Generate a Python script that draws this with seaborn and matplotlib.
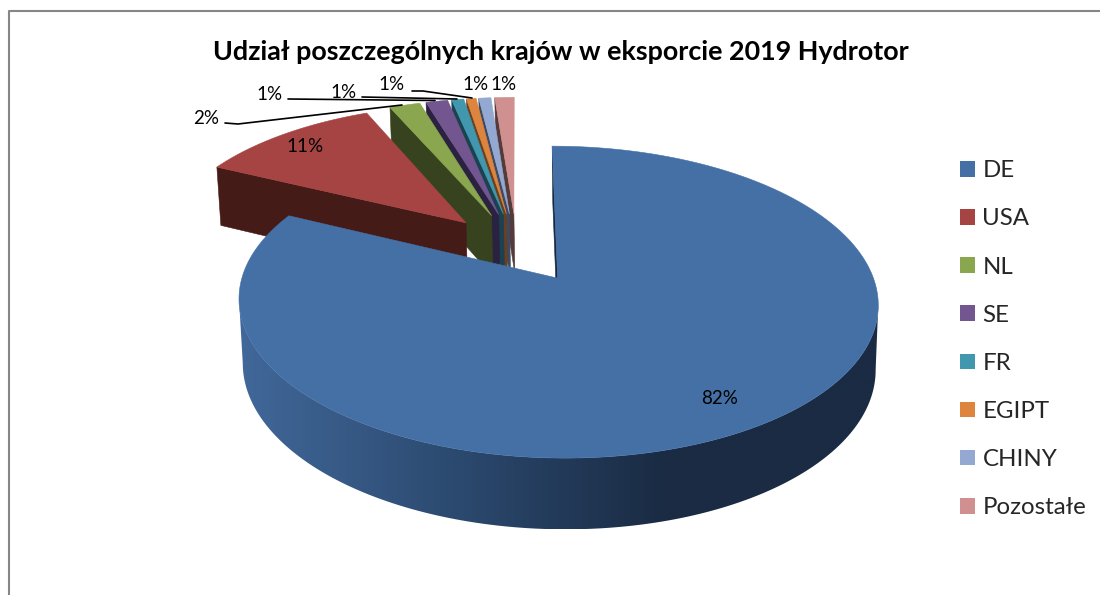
"""Exploded perspective pie: export share by country, Hydrotor 2019."""

import matplotlib
matplotlib.use("Agg")
import matplotlib.pyplot as plt
from matplotlib.colors import ListedColormap
from matplotlib.lines import Line2D
from matplotlib.patches import Patch, Polygon
import numpy as np
import seaborn as sns

countries = ["DE", "USA", "NL", "SE", "FR", "EGIPT", "CHINY", "Pozostałe"]
shares = [82.2, 11.25, 1.9, 1.35, 0.75, 0.6, 0.75, 1.2]

top_colors = ["#4570a6", "#a64443", "#8aa64e", "#735690",
              "#4097ae", "#dd843e", "#94a9d1", "#d09090"]
cut_colors = ["#17283f", "#451b17", "#37431e", "#2b2140",
              "#1a4250", "#6b3f1f", "#3c4a63", "#553a3a"]
rim_colors = ["#41689a", "#2c4a70", "#1a2b43", "#1a2b43"]

# projection of the pie plane to pixels
CX, CY = 516.6, 247.5
RX, RY = 306.0, 143.0
PERSP = 0.149
EXPLODE = 0.245
DEPTH = 62.0

sns.set_theme(style="white")
plt.rcParams["font.family"] = ["Lato", "DejaVu Sans"]


def project(u, v, lower=False):
    u, v = np.asarray(u, float), np.asarray(v, float)
    w = 1 + PERSP * v
    x = RX * u / w
    y = -RY * v / w
    if lower:
        x = x * 0.99 + 1
        y = y + DEPTH / w ** 0.7
    return CX + x, CY + y


def face(ax, pts_x, pts_y, color):
    poly = Polygon(np.column_stack([pts_x, pts_y]), closed=True,
                   facecolor=color, edgecolor=color, linewidth=0.4)
    ax.add_patch(poly)
    return poly


fig, ax = plt.subplots(figsize=(11, 5.95), dpi=100)
fig.subplots_adjust(0, 0, 1, 1)

# chart frame, open on the right and at the bottom
ax.add_line(Line2D([1100, 9, 9], [10.5, 10.5, 595], color="#868686", lw=1.5))

edges = np.radians(np.r_[0, np.cumsum(shares)] * 3.6)
palette = sns.color_palette(top_colors)
rim = ListedColormap(sns.blend_palette(rim_colors, 256))

# far slices first, the big one last
for i in list(range(len(shares) - 1, 0, -1)) + [0]:
    t0, t1 = edges[i], edges[i + 1]
    mid = (t0 + t1) / 2
    ou, ov = EXPLODE * np.sin(mid), EXPLODE * np.cos(mid)
    t = np.linspace(t0, t1, 600)
    u, v = ou + np.sin(t), ov + np.cos(t)

    if i == 0:
        # front of the outer wall only, between the two side extremes of the arc
        x0, y0 = project(u, v)
        x1, y1 = project(u, v, lower=True)
        a, b = np.argmax(x0), np.argmin(x0)
        wall_x = np.r_[x0[a:b + 1], x1[a:b + 1][::-1]]
        wall_y = np.r_[y0[a:b + 1], y1[a:b + 1][::-1]]
        wall = Polygon(np.column_stack([wall_x, wall_y]), closed=True,
                       facecolor="none", edgecolor="none")
        ax.add_patch(wall)
        img = ax.imshow(np.linspace(0, 1, 512)[None, :], cmap=rim, aspect="auto",
                        extent=(x0.min(), x0.max(), y1.max(), y0.min()),
                        interpolation="bilinear")
        img.set_clip_path(wall)

    ex, ey = ou + np.sin(t0), ov + np.cos(t0)
    ax0, ay0 = project([ex, ou], [ey, ov])
    ax1, ay1 = project([ex, ou], [ey, ov], lower=True)
    face(ax, [ax0[0], ax0[1], ax1[1], ax1[0]],
         [ay0[0], ay0[1], ay1[1], ay1[0]], cut_colors[i])

    px, py = project(np.r_[ou, u], np.r_[ov, v])
    poly = face(ax, px, py, palette[i])
    poly.set_zorder(1.5 if i == 0 else 1)

ax.set_xlim(0, 1100)
ax.set_ylim(595, 0)
ax.axis("off")

labels = [f"{round(s)}%" for s in shares]
label_pos = [(720, 398), (305, 146), (206, 119), (270, 94),
             (343, 92), (392, 85), (476, 85), (504, 85)]
for lab, (lx, ly) in zip(labels, label_pos):
    ax.text(lx, ly, lab, ha="center", va="center", fontsize=13.5, color="black", zorder=3)

# leader lines of the small slices
leaders = [([225, 238, 402], [123, 124, 105]),
           ([288, 435], [99, 100.5]),
           ([362, 457], [97, 99]),
           ([412, 423, 472], [91, 91, 98])]
for lx, ly in leaders:
    ax.add_line(Line2D(lx, ly, color="black", lw=1.2, zorder=3))

ax.text(561, 52, "Udział poszczególnych krajów w eksporcie 2019 Hydrotor",
        ha="center", va="center", fontsize=19.35, fontweight="bold", color="black")

handles = [Patch(facecolor=c, edgecolor="none") for c in palette]
ax.legend(handles, countries, loc="upper left", bbox_to_anchor=(953, 153),
          bbox_transform=ax.transData, frameon=False, fontsize=17.3,
          handlelength=0.625, handleheight=0.625, handletextpad=0.3,
          labelspacing=1.13, borderpad=0.3, borderaxespad=0)

fig.savefig("out.png", dpi=100)
